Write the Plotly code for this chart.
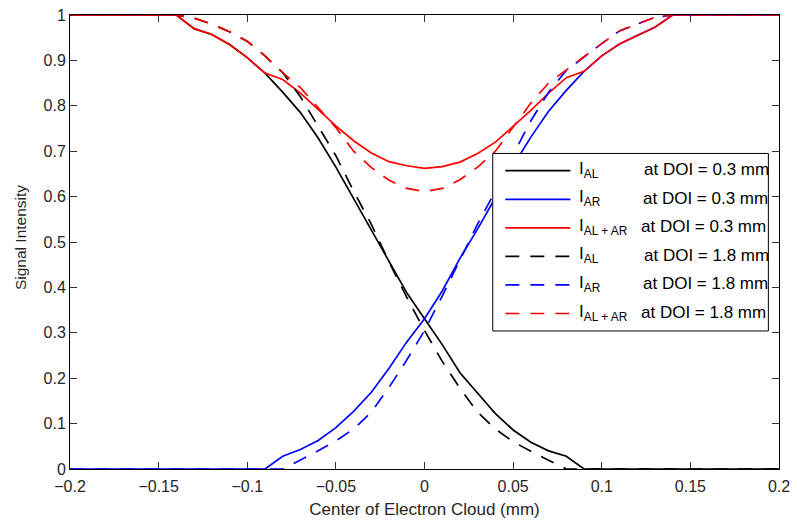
import plotly.graph_objects as go

# Electron-cloud centre positions (mm)
x_pos = [-0.20, -0.19, -0.18, -0.17, -0.16, -0.15, -0.14, -0.13, -0.12, -0.11,
         -0.10, -0.09, -0.08, -0.07, -0.06, -0.05, -0.04, -0.03, -0.02, -0.01,
         0.00, 0.01, 0.02, 0.03, 0.04, 0.05, 0.06, 0.07, 0.08, 0.09,
         0.10, 0.11, 0.12, 0.13, 0.14, 0.15, 0.16, 0.17, 0.18, 0.19, 0.20]

# Normalised signal intensities, DOI = 0.3 mm
i_al_03 = [1, 1, 1, 1, 1, 1, 1, 0.970, 0.957, 0.935,
           0.906, 0.872, 0.830, 0.785, 0.729, 0.665, 0.596, 0.527, 0.455, 0.388,
           0.331, 0.274, 0.212, 0.166, 0.122, 0.086, 0.059, 0.040, 0.028, 0,
           0, 0, 0, 0, 0, 0, 0, 0, 0, 0, 0]
i_ar_03 = [0, 0, 0, 0, 0, 0, 0, 0, 0, 0,
           0, 0, 0.028, 0.043, 0.063, 0.091, 0.127, 0.169, 0.222, 0.280,
           0.331, 0.392, 0.464, 0.529, 0.598, 0.668, 0.731, 0.788, 0.834, 0.876,
           0.910, 0.936, 0.955, 0.973, 1, 1, 1, 1, 1, 1, 1]
i_sum_03 = [1, 1, 1, 1, 1, 1, 1, 0.970, 0.957, 0.935,
            0.906, 0.872, 0.858, 0.828, 0.792, 0.756, 0.723, 0.696, 0.677, 0.668,
            0.662, 0.666, 0.676, 0.695, 0.720, 0.754, 0.790, 0.828, 0.862, 0.876,
            0.910, 0.936, 0.955, 0.973, 1, 1, 1, 1, 1, 1, 1]

# Normalised signal intensities, DOI = 1.8 mm
i_al_18 = [1, 1, 1, 1, 1, 1, 1, 0.993, 0.980, 0.963,
           0.942, 0.910, 0.873, 0.820, 0.755, 0.690, 0.612, 0.539, 0.456, 0.378,
           0.305, 0.237, 0.178, 0.125, 0.088, 0.060, 0.039, 0.020, 0, 0,
           0, 0, 0, 0, 0, 0, 0, 0, 0, 0, 0]
i_ar_18 = [0, 0, 0, 0, 0, 0, 0, 0, 0, 0,
           0, 0, 0, 0.020, 0.040, 0.062, 0.088, 0.125, 0.180, 0.240,
           0.305, 0.381, 0.459, 0.540, 0.612, 0.692, 0.767, 0.830, 0.878, 0.908,
           0.937, 0.965, 0.980, 0.995, 1, 1, 1, 1, 1, 1, 1]
i_sum_18 = [1, 1, 1, 1, 1, 1, 1, 0.993, 0.980, 0.963,
            0.942, 0.910, 0.873, 0.840, 0.795, 0.752, 0.700, 0.664, 0.636, 0.618,
            0.611, 0.618, 0.637, 0.665, 0.700, 0.752, 0.806, 0.850, 0.878, 0.908,
            0.937, 0.965, 0.980, 0.995, 1, 1, 1, 1, 1, 1, 1]

x_ticks = [-0.2, -0.15, -0.1, -0.05, 0, 0.05, 0.1, 0.15, 0.2]
x_tick_text = ["\u22120.2", "\u22120.15", "\u22120.1", "\u22120.05", "0",
               "0.05", "0.1", "0.15", "0.2"]
y_ticks = [0, 0.1, 0.2, 0.3, 0.4, 0.5, 0.6, 0.7, 0.8, 0.9, 1]
y_tick_text = ["0", "0.1", "0.2", "0.3", "0.4", "0.5", "0.6", "0.7", "0.8", "0.9", "1"]

DASHED = "14px,11px"
series = [
    ("I<sub>AL</sub>", "at DOI = 0.3 mm", i_al_03, "#000000", "solid"),
    ("I<sub>AR</sub>", "at DOI = 0.3 mm", i_ar_03, "#0000ff", "solid"),
    ("I<sub>AL + AR</sub>", "at DOI = 0.3 mm", i_sum_03, "#ff0000", "solid"),
    ("I<sub>AL</sub>", "at DOI = 1.8 mm", i_al_18, "#000000", DASHED),
    ("I<sub>AR</sub>", "at DOI = 1.8 mm", i_ar_18, "#0000ff", DASHED),
    ("I<sub>AL + AR</sub>", "at DOI = 1.8 mm", i_sum_18, "#ff0000", DASHED),
]

FONT = "Liberation Sans, Arial, Helvetica, sans-serif"
TXT = "#262626"
LW = 1.7

fig = go.Figure()
for name, doi, ys, color, dash in series:
    fig.add_trace(go.Scatter(
        x=x_pos, y=ys, mode="lines", name=f"{name} {doi}",
        line=dict(color=color, width=LW, dash=dash),
        showlegend=False, hoverinfo="skip",
    ))

# Boxed legend drawn inside the axes (opaque, covering the curves)
box_x0, box_x1 = 0.0385, 0.194
box_y0, box_y1 = 0.304, 0.695
shapes = [dict(type="rect", xref="x", yref="y", x0=box_x0, x1=box_x1,
               y0=box_y0, y1=box_y1, fillcolor="white",
               line=dict(color="black", width=1), layer="above")]
annotations = []
row_top, row_step = 0.657, 0.0629
text_x = [0.1226, 0.1220, 0.1211, 0.1226, 0.1220, 0.1211]
for k, (name, doi, ys, color, dash) in enumerate(series):
    yk = row_top - k * row_step
    shapes.append(dict(type="line", xref="x", yref="y", x0=0.0456, x1=0.0823,
                       y0=yk, y1=yk, layer="above",
                       line=dict(color=color, width=LW, dash=dash)))
    annotations.append(dict(x=0.0862, y=yk, xref="x", yref="y", text=name,
                            showarrow=False, xanchor="left", yanchor="middle",
                            yshift=1, font=dict(family=FONT, size=17, color="black")))
    annotations.append(dict(x=text_x[k], y=yk, xref="x", yref="y", text=doi,
                            showarrow=False, xanchor="left", yanchor="middle",
                            yshift=1, font=dict(family=FONT, size=17, color="black")))

# Y-axis title placed as rotated text left of the tick labels
annotations.append(dict(x=-0.0697, y=0.51, xref="paper", yref="paper",
                        text="Signal Intensity", textangle=-90, showarrow=False,
                        xanchor="center", yanchor="middle",
                        font=dict(family=FONT, size=15.5, color=TXT)))

axis_common = dict(
    showline=True, linecolor="black", linewidth=1, mirror="ticks",
    ticks="inside", ticklen=7, tickwidth=1, tickcolor="#333333",
    showgrid=False, zeroline=False, layer="below traces",
    ticklabeloverflow="allow",
    tickfont=dict(family=FONT, size=16, color=TXT),
)

fig.update_layout(
    width=797, height=522,
    margin=dict(l=70, r=17, t=7, b=52),
    paper_bgcolor="white", plot_bgcolor="white",
    xaxis=dict(range=[-0.2, 0.2], tickvals=x_ticks, ticktext=x_tick_text,
               ticklabelstandoff=3,
               title=dict(text="Center of Electron Cloud (mm)", standoff=8,
                          font=dict(family=FONT, size=17, color=TXT)),
               **axis_common),
    yaxis=dict(range=[0, 1], tickvals=y_ticks, ticktext=y_tick_text,
               **axis_common),
    shapes=shapes,
    annotations=annotations,
)

fig.write_html("out.html")
